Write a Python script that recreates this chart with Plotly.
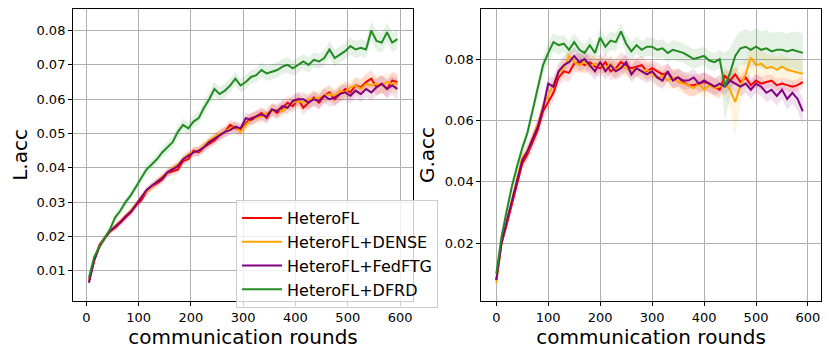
import plotly.graph_objects as go
from plotly.subplots import make_subplots

# communication rounds
rounds_l = list(range(5, 600, 10))
rounds_g = list(range(0, 600, 10))

methods = ['HeteroFL', 'HeteroFL+DENSE', 'HeteroFL+FedFTG', 'HeteroFL+DFRD']
colors = ['#ff0000', '#ffa500', '#800080', '#228b22']
bands = ['rgba(255,0,0,0.12)', 'rgba(255,165,0,0.12)', 'rgba(128,0,128,0.12)', 'rgba(34,139,34,0.12)']

# L.acc
heterofl_l = [0.0070, 0.0130, 0.0175, 0.0195, 0.0215, 0.0225, 0.0240, 0.0255, 0.0270, 0.0290,
              0.0305, 0.0330, 0.0345, 0.0355, 0.0365, 0.0385, 0.0390, 0.0395, 0.0420, 0.0425,
              0.0450, 0.0445, 0.0460, 0.0470, 0.0480, 0.0495, 0.0505, 0.0525, 0.0515, 0.0510,
              0.0530, 0.0545, 0.0550, 0.0560, 0.0545, 0.0570, 0.0560, 0.0575, 0.0590, 0.0580,
              0.0600, 0.0575, 0.0590, 0.0605, 0.0590, 0.0610, 0.0620, 0.0600, 0.0615, 0.0630,
              0.0620, 0.0640, 0.0635, 0.0650, 0.0660, 0.0635, 0.0645, 0.0630, 0.0655, 0.0650]
dense_l = [0.0070, 0.0135, 0.0170, 0.0195, 0.0215, 0.0230, 0.0245, 0.0260, 0.0275, 0.0295,
           0.0315, 0.0330, 0.0345, 0.0360, 0.0375, 0.0385, 0.0400, 0.0410, 0.0425, 0.0440,
           0.0445, 0.0450, 0.0465, 0.0480, 0.0490, 0.0500, 0.0505, 0.0515, 0.0520, 0.0505,
           0.0525, 0.0540, 0.0545, 0.0550, 0.0560, 0.0565, 0.0570, 0.0565, 0.0580, 0.0590,
           0.0595, 0.0590, 0.0600, 0.0600, 0.0605, 0.0610, 0.0615, 0.0610, 0.0625, 0.0620,
           0.0635, 0.0640, 0.0630, 0.0645, 0.0640, 0.0645, 0.0640, 0.0650, 0.0645, 0.0645]
fedftg_l = [0.0065, 0.0130, 0.0170, 0.0195, 0.0215, 0.0228, 0.0242, 0.0258, 0.0272, 0.0292,
            0.0312, 0.0335, 0.0348, 0.0360, 0.0370, 0.0387, 0.0395, 0.0405, 0.0425, 0.0435,
            0.0445, 0.0450, 0.0460, 0.0475, 0.0485, 0.0495, 0.0505, 0.0510, 0.0520, 0.0515,
            0.0545, 0.0540, 0.0550, 0.0555, 0.0550, 0.0570, 0.0565, 0.0580, 0.0575, 0.0595,
            0.0600, 0.0600, 0.0590, 0.0600, 0.0595, 0.0610, 0.0600, 0.0605, 0.0615, 0.0620,
            0.0610, 0.0625, 0.0615, 0.0630, 0.0620, 0.0635, 0.0645, 0.0630, 0.0640, 0.0630]
dfrd_l = [0.0080, 0.0140, 0.0170, 0.0195, 0.0220, 0.0255, 0.0275, 0.0300, 0.0320, 0.0345,
          0.0370, 0.0395, 0.0410, 0.0425, 0.0445, 0.0460, 0.0475, 0.0505, 0.0525, 0.0515,
          0.0535, 0.0545, 0.0575, 0.0600, 0.0630, 0.0615, 0.0625, 0.0640, 0.0660, 0.0640,
          0.0650, 0.0665, 0.0670, 0.0685, 0.0675, 0.0680, 0.0685, 0.0695, 0.0700, 0.0690,
          0.0700, 0.0710, 0.0700, 0.0715, 0.0710, 0.0720, 0.0745, 0.0720, 0.0730, 0.0740,
          0.0755, 0.0745, 0.0750, 0.0745, 0.0800, 0.0770, 0.0765, 0.0795, 0.0765, 0.0775]

heterofl_l_std = [0.0005, 0.0006, 0.0008, 0.0008, 0.0008, 0.0009, 0.0009, 0.0010, 0.0010, 0.0010,
                  0.0010, 0.0011, 0.0011, 0.0012, 0.0012, 0.0012, 0.0012, 0.0013, 0.0013, 0.0013,
                  0.0013, 0.0014, 0.0014, 0.0014, 0.0015, 0.0015, 0.0015, 0.0016, 0.0016, 0.0016,
                  0.0017, 0.0017, 0.0017, 0.0018, 0.0018, 0.0018, 0.0019, 0.0019, 0.0020, 0.0020,
                  0.0020, 0.0021, 0.0021, 0.0021, 0.0022, 0.0022, 0.0022, 0.0022, 0.0023, 0.0023,
                  0.0023, 0.0024, 0.0024, 0.0024, 0.0025, 0.0025, 0.0025, 0.0025, 0.0026, 0.0026]
dense_l_std = [0.0005, 0.0006, 0.0007, 0.0007, 0.0008, 0.0008, 0.0009, 0.0009, 0.0010, 0.0010,
               0.0010, 0.0010, 0.0011, 0.0011, 0.0011, 0.0012, 0.0012, 0.0012, 0.0013, 0.0013,
               0.0013, 0.0014, 0.0014, 0.0015, 0.0015, 0.0016, 0.0016, 0.0017, 0.0017, 0.0018,
               0.0018, 0.0018, 0.0018, 0.0019, 0.0019, 0.0019, 0.0020, 0.0020, 0.0020, 0.0020,
               0.0021, 0.0021, 0.0021, 0.0021, 0.0022, 0.0022, 0.0022, 0.0023, 0.0023, 0.0023,
               0.0024, 0.0024, 0.0024, 0.0025, 0.0025, 0.0026, 0.0026, 0.0027, 0.0027, 0.0027]
fedftg_l_std = [0.0005, 0.0006, 0.0007, 0.0008, 0.0008, 0.0008, 0.0009, 0.0009, 0.0010, 0.0010,
                0.0010, 0.0010, 0.0011, 0.0011, 0.0011, 0.0012, 0.0012, 0.0012, 0.0012, 0.0013,
                0.0013, 0.0013, 0.0014, 0.0014, 0.0014, 0.0015, 0.0015, 0.0015, 0.0016, 0.0016,
                0.0016, 0.0017, 0.0017, 0.0017, 0.0018, 0.0018, 0.0018, 0.0019, 0.0019, 0.0019,
                0.0020, 0.0020, 0.0020, 0.0021, 0.0021, 0.0021, 0.0022, 0.0022, 0.0022, 0.0023,
                0.0023, 0.0023, 0.0024, 0.0024, 0.0024, 0.0025, 0.0026, 0.0027, 0.0028, 0.0030]
dfrd_l_std = [0.0005, 0.0008, 0.0008, 0.0010, 0.0010, 0.0010, 0.0012, 0.0012, 0.0012, 0.0012,
              0.0015, 0.0015, 0.0015, 0.0015, 0.0015, 0.0015, 0.0018, 0.0018, 0.0018, 0.0018,
              0.0018, 0.0018, 0.0020, 0.0020, 0.0020, 0.0020, 0.0020, 0.0020, 0.0020, 0.0020,
              0.0020, 0.0020, 0.0020, 0.0022, 0.0022, 0.0022, 0.0022, 0.0022, 0.0022, 0.0022,
              0.0022, 0.0022, 0.0022, 0.0022, 0.0022, 0.0022, 0.0024, 0.0024, 0.0024, 0.0024,
              0.0025, 0.0025, 0.0025, 0.0025, 0.0028, 0.0028, 0.0028, 0.0028, 0.0028, 0.0028]

# G.acc
heterofl_g = [0.0080, 0.0200, 0.0260, 0.0330, 0.0400, 0.0460, 0.0490, 0.0530, 0.0570, 0.0630,
              0.0660, 0.0690, 0.0740, 0.0760, 0.0755, 0.0785, 0.0790, 0.0780, 0.0790, 0.0775,
              0.0770, 0.0790, 0.0760, 0.0770, 0.0790, 0.0780, 0.0770, 0.0775, 0.0780, 0.0760,
              0.0770, 0.0760, 0.0750, 0.0755, 0.0735, 0.0740, 0.0725, 0.0715, 0.0715, 0.0720,
              0.0725, 0.0720, 0.0710, 0.0700, 0.0745, 0.0730, 0.0750, 0.0725, 0.0740, 0.0715,
              0.0730, 0.0720, 0.0725, 0.0730, 0.0715, 0.0720, 0.0715, 0.0710, 0.0715, 0.0725]
dense_g = [0.0070, 0.0205, 0.0270, 0.0340, 0.0410, 0.0480, 0.0500, 0.0545, 0.0590, 0.0645,
           0.0680, 0.0720, 0.0755, 0.0770, 0.0810, 0.0790, 0.0780, 0.0790, 0.0775, 0.0785,
           0.0780, 0.0770, 0.0785, 0.0765, 0.0775, 0.0770, 0.0760, 0.0770, 0.0760, 0.0765,
           0.0750, 0.0740, 0.0745, 0.0730, 0.0740, 0.0725, 0.0720, 0.0715, 0.0705, 0.0720,
           0.0700, 0.0715, 0.0705, 0.0710, 0.0720, 0.0700, 0.0660, 0.0715, 0.0750, 0.0805,
           0.0780, 0.0785, 0.0770, 0.0775, 0.0765, 0.0775, 0.0765, 0.0760, 0.0755, 0.0752]
fedftg_g = [0.0080, 0.0200, 0.0270, 0.0340, 0.0410, 0.0470, 0.0500, 0.0540, 0.0580, 0.0640,
            0.0720, 0.0710, 0.0760, 0.0780, 0.0790, 0.0810, 0.0790, 0.0800, 0.0780, 0.0760,
            0.0790, 0.0760, 0.0780, 0.0760, 0.0770, 0.0790, 0.0750, 0.0770, 0.0760, 0.0750,
            0.0760, 0.0740, 0.0730, 0.0760, 0.0730, 0.0740, 0.0730, 0.0730, 0.0740, 0.0720,
            0.0730, 0.0720, 0.0710, 0.0720, 0.0710, 0.0730, 0.0720, 0.0710, 0.0720, 0.0700,
            0.0720, 0.0710, 0.0690, 0.0700, 0.0680, 0.0700, 0.0670, 0.0690, 0.0670, 0.0630]
dfrd_g = [0.0100, 0.0220, 0.0305, 0.0385, 0.0450, 0.0510, 0.0560, 0.0630, 0.0700, 0.0780,
          0.0820, 0.0855, 0.0845, 0.0850, 0.0830, 0.0855, 0.0830, 0.0820, 0.0845, 0.0820,
          0.0870, 0.0840, 0.0860, 0.0855, 0.0890, 0.0850, 0.0825, 0.0845, 0.0830, 0.0840,
          0.0840, 0.0830, 0.0835, 0.0820, 0.0830, 0.0825, 0.0820, 0.0810, 0.0800, 0.0805,
          0.0810, 0.0795, 0.0790, 0.0800, 0.0710, 0.0755, 0.0810, 0.0835, 0.0840, 0.0830,
          0.0840, 0.0830, 0.0835, 0.0825, 0.0830, 0.0830, 0.0825, 0.0830, 0.0825, 0.0820]

heterofl_g_std = [0.0010, 0.0015, 0.0018, 0.0020, 0.0020, 0.0020, 0.0022, 0.0022, 0.0024, 0.0025,
                  0.0025, 0.0028, 0.0028, 0.0030, 0.0030, 0.0030, 0.0030, 0.0028, 0.0028, 0.0028,
                  0.0028, 0.0030, 0.0030, 0.0030, 0.0032, 0.0030, 0.0030, 0.0030, 0.0030, 0.0030,
                  0.0028, 0.0028, 0.0028, 0.0030, 0.0030, 0.0030, 0.0032, 0.0035, 0.0035, 0.0032,
                  0.0030, 0.0028, 0.0028, 0.0028, 0.0026, 0.0025, 0.0025, 0.0024, 0.0024, 0.0024,
                  0.0022, 0.0022, 0.0022, 0.0020, 0.0020, 0.0020, 0.0020, 0.0020, 0.0020, 0.0020]
dense_g_std = [0.0010, 0.0015, 0.0018, 0.0020, 0.0020, 0.0020, 0.0022, 0.0022, 0.0024, 0.0025,
               0.0025, 0.0028, 0.0028, 0.0030, 0.0030, 0.0028, 0.0028, 0.0028, 0.0028, 0.0028,
               0.0028, 0.0028, 0.0028, 0.0028, 0.0028, 0.0028, 0.0028, 0.0028, 0.0028, 0.0028,
               0.0028, 0.0030, 0.0030, 0.0030, 0.0030, 0.0030, 0.0030, 0.0030, 0.0030, 0.0030,
               0.0030, 0.0030, 0.0032, 0.0035, 0.0040, 0.0060, 0.0110, 0.0060, 0.0050, 0.0045,
               0.0045, 0.0045, 0.0042, 0.0042, 0.0042, 0.0042, 0.0040, 0.0040, 0.0040, 0.0040]
fedftg_g_std = [0.0010, 0.0015, 0.0018, 0.0020, 0.0020, 0.0020, 0.0022, 0.0022, 0.0024, 0.0025,
                0.0025, 0.0028, 0.0028, 0.0030, 0.0030, 0.0030, 0.0030, 0.0030, 0.0030, 0.0028,
                0.0028, 0.0028, 0.0028, 0.0028, 0.0028, 0.0028, 0.0028, 0.0028, 0.0028, 0.0028,
                0.0028, 0.0028, 0.0028, 0.0028, 0.0028, 0.0028, 0.0028, 0.0028, 0.0028, 0.0028,
                0.0028, 0.0028, 0.0028, 0.0028, 0.0028, 0.0028, 0.0028, 0.0030, 0.0030, 0.0030,
                0.0030, 0.0030, 0.0030, 0.0032, 0.0032, 0.0032, 0.0035, 0.0035, 0.0038, 0.0045]
dfrd_g_std = [0.0010, 0.0015, 0.0018, 0.0020, 0.0020, 0.0020, 0.0022, 0.0022, 0.0025, 0.0028,
              0.0035, 0.0030, 0.0030, 0.0028, 0.0028, 0.0030, 0.0030, 0.0028, 0.0028, 0.0028,
              0.0030, 0.0030, 0.0030, 0.0030, 0.0025, 0.0030, 0.0030, 0.0028, 0.0028, 0.0030,
              0.0030, 0.0030, 0.0030, 0.0030, 0.0032, 0.0032, 0.0032, 0.0032, 0.0032, 0.0030,
              0.0030, 0.0030, 0.0030, 0.0030, 0.0110, 0.0080, 0.0060, 0.0055, 0.0058, 0.0060,
              0.0060, 0.0060, 0.0060, 0.0060, 0.0058, 0.0058, 0.0058, 0.0060, 0.0062, 0.0065]

left = [(heterofl_l, heterofl_l_std), (dense_l, dense_l_std), (fedftg_l, fedftg_l_std), (dfrd_l, dfrd_l_std)]
right = [(heterofl_g, heterofl_g_std), (dense_g, dense_g_std), (fedftg_g, fedftg_g_std), (dfrd_g, dfrd_g_std)]

fig = make_subplots(rows=1, cols=2)


def add_band(x, mean, std, fill, col):
    lo = [m - s for m, s in zip(mean, std)]
    hi = [m + s for m, s in zip(mean, std)]
    fig.add_trace(go.Scatter(x=x, y=lo, mode='lines', line=dict(width=0), showlegend=False,
                             hoverinfo='skip'), row=1, col=col)
    fig.add_trace(go.Scatter(x=x, y=hi, mode='lines', line=dict(width=0), fill='tonexty',
                             fillcolor=fill, showlegend=False, hoverinfo='skip'), row=1, col=col)


for i in range(len(methods)):
    add_band(rounds_l, left[i][0], left[i][1], bands[i], 1)
    add_band(rounds_g, right[i][0], right[i][1], bands[i], 2)

for i in range(len(methods)):
    fig.add_trace(go.Scatter(x=rounds_l, y=left[i][0], name=methods[i], mode='lines',
                             line=dict(color=colors[i], width=2)), row=1, col=1)
    fig.add_trace(go.Scatter(x=rounds_g, y=right[i][0], name=methods[i], mode='lines',
                             line=dict(color=colors[i], width=2), showlegend=False), row=1, col=2)

axis_style = dict(showline=True, mirror=True, linecolor='black', linewidth=1,
                  ticks='outside', ticklen=4, tickcolor='black',
                  showgrid=True, gridcolor='#b0b0b0', gridwidth=1, zeroline=False,
                  automargin=False, tickfont=dict(size=13, color='black'))

fig.update_xaxes(axis_style)
fig.update_yaxes(axis_style)

x_title = dict(text='communication rounds', font=dict(size=20, color='black'), standoff=2)
fig.update_xaxes(domain=[0.0798, 0.4969], range=[-25.4, 624.7], tickvals=[0, 100, 200, 300, 400, 500, 600],
                 title=x_title, row=1, col=1)
fig.update_xaxes(domain=[0.5807, 0.9975], range=[-28.9, 625], tickvals=[0, 100, 200, 300, 400, 500, 600],
                 title=x_title, row=1, col=2)
fig.update_yaxes(domain=[0.1433, 0.9971], range=[0.0012, 0.0863],
                 tickvals=[0.01, 0.02, 0.03, 0.04, 0.05, 0.06, 0.07, 0.08], tickformat='.2f',
                 title=dict(text='L.acc', font=dict(size=20, color='black'), standoff=8), row=1, col=1)
fig.update_yaxes(domain=[0.1433, 0.9971], range=[0.0012, 0.0963],
                 tickvals=[0.02, 0.04, 0.06, 0.08], tickformat='.2f',
                 title=dict(text='G.acc', font=dict(size=20, color='black'), standoff=4), row=1, col=2)

fig.update_layout(
    width=815, height=342,
    margin=dict(l=0, r=0, t=0, b=0),
    paper_bgcolor='white', plot_bgcolor='white',
    font=dict(family='DejaVu Sans', color='black'),
    showlegend=True,
    legend=dict(x=0.2798, y=0.4386, xanchor='left', yanchor='top', traceorder='normal',
                bgcolor='rgba(255,255,255,0.8)', bordercolor='#cccccc', borderwidth=1,
                font=dict(size=16, color='black'), itemwidth=40,
                entrywidth=200, entrywidthmode='pixels'),
)

fig.write_html("out.html")
